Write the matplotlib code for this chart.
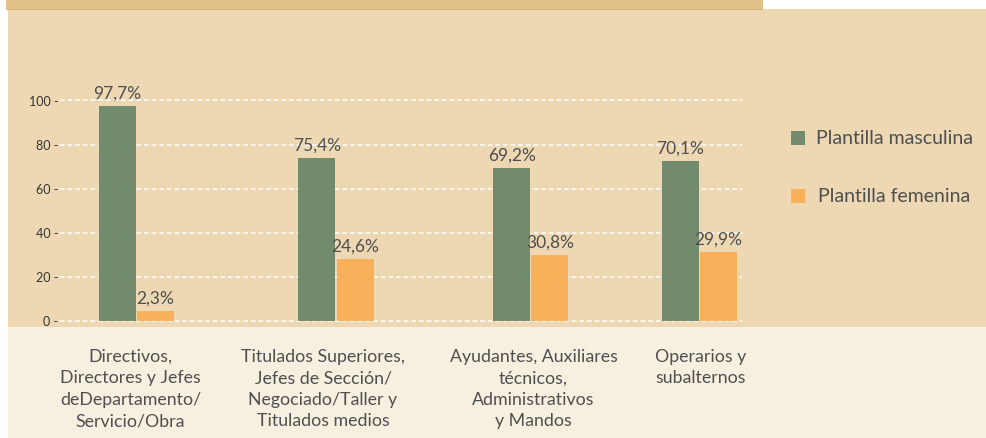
import matplotlib
matplotlib.use("Agg")
import matplotlib.pyplot as plt
from matplotlib.patches import Rectangle
from matplotlib import font_manager
import matplotlib.transforms as mtransforms

# ---------------- data ----------------
categories = [
    "Directivos,\nDirectores y Jefes\ndeDepartamento/\nServicio/Obra",
    "Titulados Superiores,\nJefes de Sección/\nNegociado/Taller y\nTitulados medios",
    "Ayudantes, Auxiliares\ntécnicos,\nAdministrativos\ny Mandos",
    "Operarios y\nsubalternos",
]
series_names = ["Plantilla masculina", "Plantilla femenina"]
masculina = [97.5, 73.9, 69.3, 72.5]
femenina = [4.3, 28.0, 29.8, 31.1]
labels_masculina = ["97,7%", "75,4%", "69,2%", "70,1%"]
labels_femenina = ["2,3%", "24,6%", "30,8%", "29,9%"]
yticks = [0, 20, 40, 60, 80, 100]

# ---------------- style ----------------
avail = {f.name for f in font_manager.fontManager.ttflist}
FONT = next((f for f in ["Liberation Sans Narrow", "Lato", "Open Sans", "DejaVu Sans"] if f in avail), "DejaVu Sans")
plt.rcParams["font.family"] = [FONT, "DejaVu Sans"]

GREEN = "#728B6D"
ORANGE = "#F8B05B"
BG_MAIN = "#EDD8B3"
BG_TOP = "#E0C28A"
BG_LOW = "#F7F0E1"
TXT = "#4F4F4F"

W, H = 987, 439
fig = plt.figure(figsize=(W / 100, H / 100), dpi=100)
fig.patch.set_facecolor("white")


def fr(x, y, w, h):
    """pixel box (top-left origin) -> figure fraction rect"""
    return (x / W, 1 - (y + h) / H, w / W, h / H)


def add_rect(x, y, w, h, color, z=-5):
    l, b, ww, hh = fr(x, y, w, h)
    fig.patches.append(Rectangle((l, b), ww, hh, transform=fig.transFigure,
                                 facecolor=color, edgecolor="none", zorder=z))


add_rect(8, 10, W - 8, 318, BG_MAIN)
add_rect(6, 0, 757, 11, BG_TOP)
add_rect(6, 9.5, 757, 1.5, "#D9B477")
add_rect(8, 328, W - 8, H - 328, BG_LOW)

# ---------------- axes ----------------
group_pos = [0.0, 1.0, 1.977, 2.822]
label_pos = [-0.03, 0.935, 1.99, 2.83]
unit_px = 199.5
ax_left_px, ax_right_px = 60, 742
y0_px, y100_px = 321.5, 101.5
ax = fig.add_axes(fr(ax_left_px, y100_px, ax_right_px - ax_left_px, y0_px - y100_px))
ax.set_zorder(2)
ax.set_facecolor("none")
ax.set_xlim((ax_left_px - 136.5) / unit_px, (ax_right_px - 136.5) / unit_px)
ax.set_ylim(0, 100)
for s in ax.spines.values():
    s.set_visible(False)

bw = 37 / unit_px
off = 19 / unit_px
gx = [p - off for p in group_pos]
ox = [p + off for p in group_pos]
ax.bar(gx, masculina, width=bw, color=GREEN, zorder=3, label=series_names[0])
ax.bar(ox, femenina, width=bw, color=ORANGE, zorder=3, label=series_names[1])

for y in yticks:
    ax.axhline(y, color="white", lw=1.1, ls=(0, (3, 2)), zorder=2, clip_on=False)

for x, v, t in zip(gx, masculina, labels_masculina):
    ax.text(x, v + 2.5, t, ha="center", va="bottom", fontsize=12.5, color=TXT, zorder=4)
for x, v, t in zip(ox, femenina, labels_femenina):
    ax.text(x, v + 2.5, t, ha="center", va="bottom", fontsize=12.5, color=TXT, zorder=4)

ax.set_xticks([])
ax.set_yticks(yticks)
ax.set_yticklabels([f"{v} -" for v in yticks], fontsize=9, color="#333333")
ax.tick_params(axis="y", length=0, pad=1)

# category labels in lower band
trans = mtransforms.blended_transform_factory(ax.transData, fig.transFigure)
for x, c in zip(label_pos, categories):
    ax.text(x, 1 - 349 / H, c, transform=trans, ha="center", va="top",
            fontsize=12.8, color=TXT, linespacing=1.42, clip_on=False)

# legend (manual)
for i, (name, col) in enumerate(zip(series_names, [GREEN, ORANGE])):
    ytop = 132 + i * 58
    add_rect(791, ytop, 14, 14, col, z=5)
    fig.text((816 + 2 * i) / W, 1 - (ytop + 7) / H, name, ha="left", va="center",
             fontsize=14, color=TXT)

fig.savefig("out.png", dpi=100, facecolor=fig.get_facecolor())
